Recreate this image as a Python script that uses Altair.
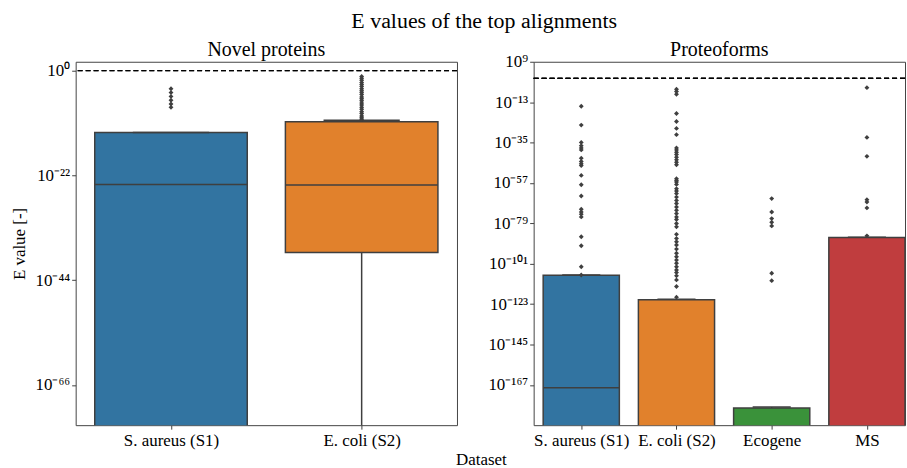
import altair as alt
import pandas as pd

FONT = "Liberation Serif"
EDGE = "#3f3f3f"

# All values are log10 of the E value. E values of 0 cannot be shown on the
# log axis; they are given a floor below the visible range (-80 / -200).
novel_datasets = ["S. aureus (S1)", "E. coli (S2)"]
novel_q1 = [-80.0, -38.2]
novel_median = [-23.9, -24.0]
novel_q3 = [-13.0, -10.7]
novel_whisker_low = [-80.0, -80.0]
novel_whisker_high = [-13.0, -10.4]
novel_out_saureus = [-3.8, -4.6, -5.4, -6.2, -7.0, -7.7]
novel_out_ecoli = [-1.2, -1.6, -2.0, -2.5, -2.9, -3.3, -3.8, -4.2, -4.6, -5.0,
                   -5.5, -5.9, -6.3, -6.8, -7.2, -7.7, -8.1, -8.6, -9.0, -9.5,
                   -9.9, -10.2]
novel_ticks = [0, -22, -44, -66]
novel_domain = [-74.45, 1.88]

proto_datasets = ["S. aureus (S1)", "E. coli (S2)", "Ecogene", "MS"]
proto_q1 = [-200.0, -200.0, -200.0, -200.0]
proto_median = [-168.5, -200.0, -200.0, -200.0]
proto_q3 = [-107.3, -120.6, -179.5, -86.7]
proto_whisker_low = [-200.0, -200.0, -200.0, -200.0]
proto_whisker_high = [-107.1, -120.3, -179.0, -86.5]
proto_out_saureus = [-15.2, -25.5, -34.9, -36.7, -37.9, -39.0, -43.5, -45.3,
                     -46.6, -47.5, -52.9, -58.0, -64.1, -71.3, -72.8, -74.0,
                     -75.5, -86.3, -91.2, -102.6, -107.1]
proto_out_ecoli = [-6.0, -7.2, -8.7, -19.2, -23.5, -27.3, -30.7, -37.9, -39.0,
                   -40.3, -41.5, -43.0, -44.4, -45.7, -47.1, -54.7, -55.6,
                   -56.5, -57.8, -60.1, -61.4, -62.8, -64.7, -66.5, -68.2,
                   -70.1, -71.9, -73.7, -75.5, -76.9, -79.1, -80.9, -85.0,
                   -87.2, -89.0, -90.8, -93.0, -95.3, -97.2, -99.0, -100.7,
                   -102.6, -104.4, -105.8, -107.6, -109.8, -113.4, -119.2]
proto_out_ecogene = [-65.5, -72.8, -76.4, -78.4, -80.4, -106.2, -110.2]
proto_out_ms = [-5.1, -32.2, -42.5, -66.1, -67.4, -70.6, -85.8]
proto_ticks = [9, -13, -35, -57, -79, -101, -123, -145, -167]
proto_domain = [-188.9, 9.0]

color_domain = ["S. aureus (S1)", "E. coli (S2)", "Ecogene", "MS"]
color_range = ["#3274a1", "#e1812c", "#3a923a", "#c03d3e"]

SUP = str.maketrans("-0123456789", "⁻⁰¹²³⁴⁵⁶⁷⁸⁹")

TEXT_STYLE = dict(labelFont=FONT, labelFontSize=17, labelColor="black",
                  titleFont=FONT, titleFontSize=17, titleFontWeight="normal",
                  titleColor="black")


def pow_label_expr(ticks):
    expr = "''"
    for t in ticks:
        expr = f"datum.value == {t} ? '10{str(t).translate(SUP)}' : ({expr})"
    return expr


def cat_label_expr(cats):
    expr = "''"
    for i, c in enumerate(cats):
        expr = f"datum.value == {i} ? '{c}' : ({expr})"
    return expr


def panel(title, title_offset, cats, q1, med, q3, wl, wh, outliers, ticks,
          domain, width, xmax, ytitle, xtitle):
    box = pd.DataFrame({"dataset": cats, "idx": list(range(len(cats))),
                        "q1": q1, "median": med, "q3": q3, "wl": wl, "wh": wh})
    rows = []
    for i, (cat, vals) in enumerate(zip(cats, outliers)):
        rows += [{"dataset": cat, "idx": i, "v": v} for v in vals]
    out = pd.DataFrame(rows)

    xaxis_kw = dict(values=list(range(len(cats))),
                    labelExpr=cat_label_expr(cats), labelAngle=0,
                    domain=False, grid=False, tickSize=4, tickColor=EDGE,
                    labelPadding=3, **TEXT_STYLE)
    if xtitle:
        xaxis = alt.Axis(title=xtitle, titleX=-53, titleY=35,
                         titleBaseline="middle", titleAlign="center",
                         **xaxis_kw)
    else:
        xaxis = alt.Axis(title=None, **xaxis_kw)
    xsc = alt.Scale(domain=[-0.5, xmax], nice=False, zero=False)

    def X(f):
        return alt.X(f, type="quantitative", scale=xsc, axis=xaxis)

    yaxis_kw = dict(values=ticks, labelExpr=pow_label_expr(ticks), grid=False,
                    domain=False, tickSize=4, tickColor=EDGE, labelPadding=2,
                    **TEXT_STYLE)
    if ytitle:
        yaxis = alt.Axis(title=ytitle, titleX=-56, titleY=182.5,
                         titleBaseline="middle", titleAlign="center",
                         titleAngle=270, **yaxis_kw)
    else:
        yaxis = alt.Axis(title=None, **yaxis_kw)
    ysc = alt.Scale(domain=domain, nice=False, zero=False)

    def Y(f):
        return alt.Y(f, type="quantitative", scale=ysc, axis=yaxis)

    base = alt.Chart(box).transform_calculate(
        left="datum.idx - 0.4", right="datum.idx + 0.4",
        capl="datum.idx - 0.2", capr="datum.idx + 0.2")

    bars = base.mark_bar(clip=True, stroke=EDGE, strokeWidth=1.5,
                         opacity=1).encode(
        x=X("left"), x2="right", y=Y("q1"), y2="q3",
        color=alt.Color("dataset:N", legend=None,
                        scale=alt.Scale(domain=color_domain,
                                        range=color_range)))
    wlow = base.mark_rule(clip=True, color=EDGE, strokeWidth=1.5).encode(
        x=X("idx"), y=Y("wl"), y2="q1")
    whigh = base.mark_rule(clip=True, color=EDGE, strokeWidth=1.5).encode(
        x=X("idx"), y=Y("q3"), y2="wh")
    cap_hi = base.mark_rule(clip=True, color=EDGE, strokeWidth=1.5).encode(
        x=X("capl"), x2="capr", y=Y("wh"))
    cap_lo = base.mark_rule(clip=True, color=EDGE, strokeWidth=1.5).encode(
        x=X("capl"), x2="capr", y=Y("wl"))
    medians = base.mark_rule(clip=True, color=EDGE, strokeWidth=1.5).encode(
        x=X("left"), x2="right", y=Y("median"))
    pts = alt.Chart(out).mark_point(
        shape="diamond", filled=True, size=24, color=EDGE, opacity=1,
        clip=True).encode(x=X("idx"), y=Y("v"))
    dash = alt.Chart(box).mark_rule(
        color="black", strokeDash=[5, 3], strokeWidth=1.3).encode(
        y=alt.datum(0, scale=ysc, axis=yaxis))
    return alt.layer(bars, wlow, whigh, cap_hi, cap_lo, medians, pts, dash
                     ).properties(
        width=width, height=365,
        title=alt.TitleParams(title, font=FONT, fontSize=20,
                              fontWeight="normal", color="black",
                              offset=title_offset))


left = panel("Novel proteins", 2, novel_datasets, novel_q1, novel_median,
             novel_q3, novel_whisker_low, novel_whisker_high,
             [novel_out_saureus, novel_out_ecoli], novel_ticks, novel_domain,
             383, 1.5, "E value [-]", None)
right = panel("Proteoforms", -7.5, proto_datasets, proto_q1, proto_median,
              proto_q3, proto_whisker_low, proto_whisker_high,
              [proto_out_saureus, proto_out_ecoli, proto_out_ecogene,
               proto_out_ms], proto_ticks, proto_domain,
              373, 3.4, None, "Dataset")

chart = alt.hconcat(left, right, spacing=77, bounds="flush").properties(
    title=alt.TitleParams("E values of the top alignments", font=FONT,
                          fontSize=22, fontWeight="normal", color="black",
                          anchor="middle", offset=6.5, dx=26),
    padding={"left": 10, "top": 8, "right": 0, "bottom": 0},
).configure(background="white").configure_view(
    stroke="#444", strokeWidth=1
).configure_axis(**TEXT_STYLE)

chart.save("out.html", embed_options={"renderer": "svg", "actions": False})
